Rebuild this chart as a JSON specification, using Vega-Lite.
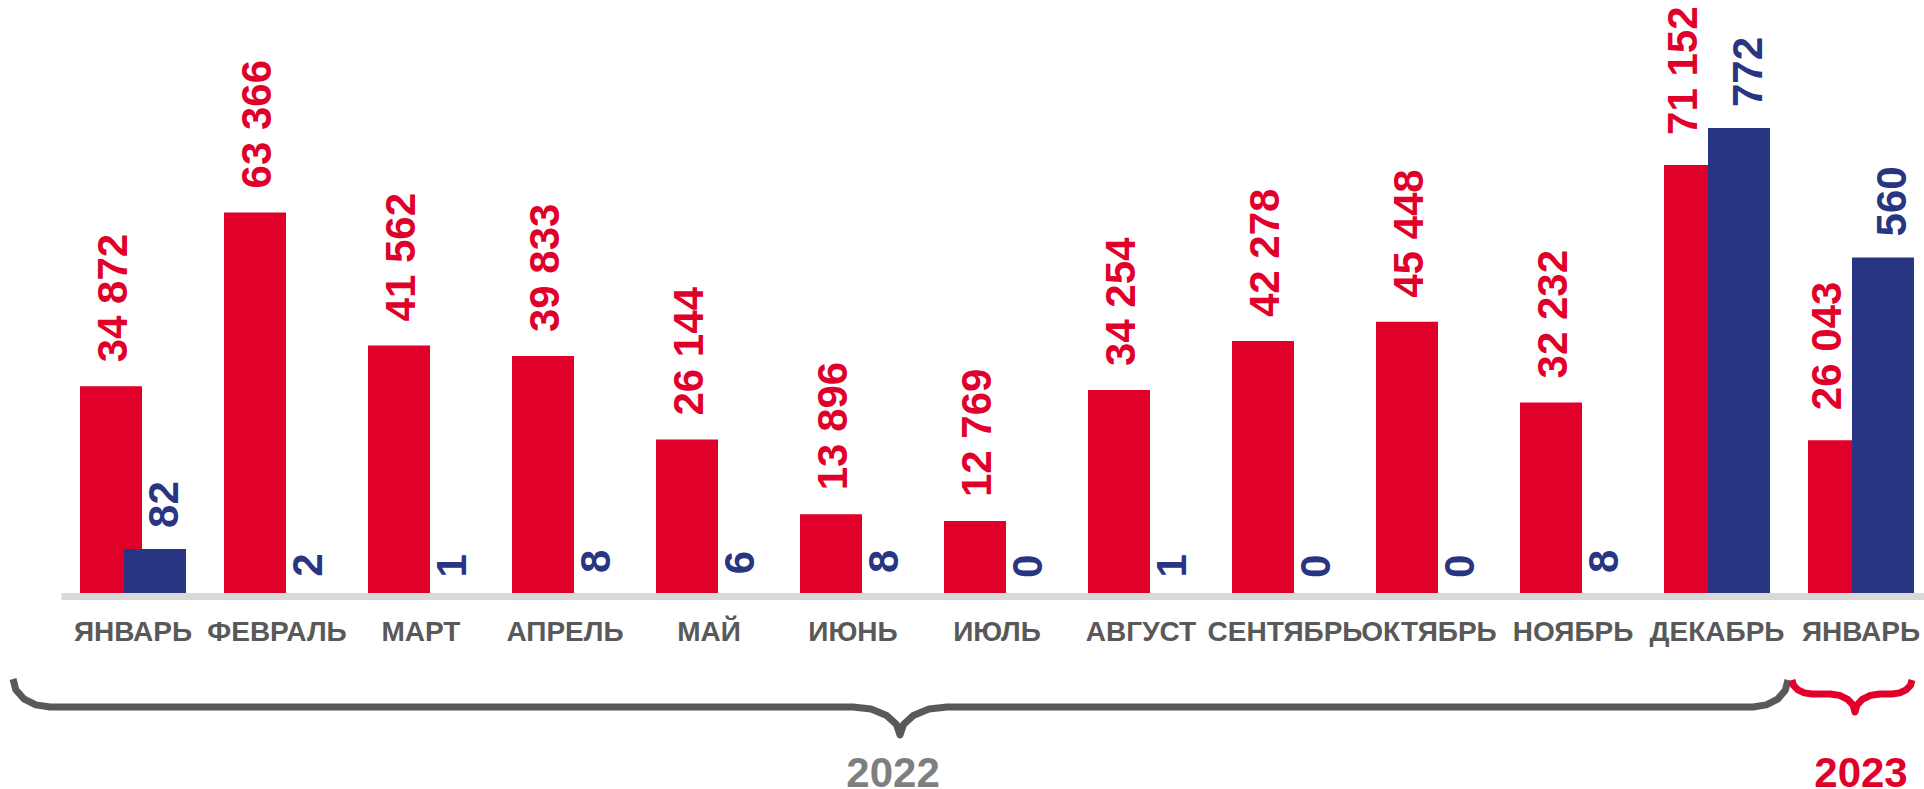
{
  "$schema": "https://vega.github.io/schema/vega-lite/v6.json",
  "width": 1863,
  "height": 488,
  "autosize": {"type": "none"},
  "padding": {"left": 61, "top": 111, "right": 0, "bottom": 190},
  "config": {
    "view": {"stroke": null},
    "font": "Liberation Sans",
    "locale": {"number": {"decimal": ",", "thousands": " ", "grouping": [3], "currency": ["", ""]}}
  },
  "datasets": {
    "months": [
      {"key": "ЯНВАРЬ|2022", "red": 34872, "blue": 82},
      {"key": "ФЕВРАЛЬ|2022", "red": 63366, "blue": 2},
      {"key": "МАРТ|2022", "red": 41562, "blue": 1},
      {"key": "АПРЕЛЬ|2022", "red": 39833, "blue": 8},
      {"key": "МАЙ|2022", "red": 26144, "blue": 6},
      {"key": "ИЮНЬ|2022", "red": 13896, "blue": 8},
      {"key": "ИЮЛЬ|2022", "red": 12769, "blue": 0},
      {"key": "АВГУСТ|2022", "red": 34254, "blue": 1},
      {"key": "СЕНТЯБРЬ|2022", "red": 42278, "blue": 0},
      {"key": "ОКТЯБРЬ|2022", "red": 45448, "blue": 0},
      {"key": "НОЯБРЬ|2022", "red": 32232, "blue": 8},
      {"key": "ДЕКАБРЬ|2022", "red": 71152, "blue": 772},
      {"key": "ЯНВАРЬ|2023", "red": 26043, "blue": 560}
    ],
    "braces": [
      {"g": "2022", "o": 1, "u": -0.3333, "v": -80},
      {"g": "2022", "o": 2, "u": -0.3139, "v": -90.7},
      {"g": "2022", "o": 3, "u": -0.2583, "v": -99.8},
      {"g": "2022", "o": 4, "u": -0.175, "v": -105.9},
      {"g": "2022", "o": 5, "u": -0.0764, "v": -108},
      {"g": "2022", "o": 6, "u": 5.5, "v": -108},
      {"g": "2022", "o": 7, "u": 5.625, "v": -110.1},
      {"g": "2022", "o": 8, "u": 5.7306, "v": -116.2},
      {"g": "2022", "o": 9, "u": 5.8014, "v": -125.3},
      {"g": "2022", "o": 10, "u": 5.8264, "v": -136},
      {"g": "2022", "o": 11, "u": 5.8514, "v": -125.3},
      {"g": "2022", "o": 12, "u": 5.9222, "v": -116.2},
      {"g": "2022", "o": 13, "u": 6.0278, "v": -110.1},
      {"g": "2022", "o": 14, "u": 6.1528, "v": -108},
      {"g": "2022", "o": 15, "u": 11.75, "v": -108},
      {"g": "2022", "o": 16, "u": 11.843, "v": -105.9},
      {"g": "2022", "o": 17, "u": 11.9215, "v": -100.1},
      {"g": "2022", "o": 18, "u": 11.974, "v": -91.3},
      {"g": "2022", "o": 19, "u": 11.993, "v": -81},
      {"g": "2023", "o": 1, "u": 12.0208, "v": -81},
      {"g": "2023", "o": 2, "u": 12.0313, "v": -86.4},
      {"g": "2023", "o": 3, "u": 12.0618, "v": -90.9},
      {"g": "2023", "o": 4, "u": 12.1063, "v": -93.9},
      {"g": "2023", "o": 5, "u": 12.1597, "v": -95},
      {"g": "2023", "o": 6, "u": 12.2847, "v": -95},
      {"g": "2023", "o": 7, "u": 12.3514, "v": -96.4},
      {"g": "2023", "o": 8, "u": 12.4076, "v": -100.3},
      {"g": "2023", "o": 9, "u": 12.4451, "v": -106.1},
      {"g": "2023", "o": 10, "u": 12.4583, "v": -113},
      {"g": "2023", "o": 11, "u": 12.4715, "v": -106.1},
      {"g": "2023", "o": 12, "u": 12.509, "v": -100.3},
      {"g": "2023", "o": 13, "u": 12.5653, "v": -96.4},
      {"g": "2023", "o": 14, "u": 12.6319, "v": -95},
      {"g": "2023", "o": 15, "u": 12.7153, "v": -95},
      {"g": "2023", "o": 16, "u": 12.7688, "v": -93.9},
      {"g": "2023", "o": 17, "u": 12.8132, "v": -90.9},
      {"g": "2023", "o": 18, "u": 12.8438, "v": -86.4},
      {"g": "2023", "o": 19, "u": 12.8542, "v": -81}
    ],
    "years": [
      {"g": "2022", "u": 5.778, "v": -188},
      {"g": "2023", "u": 12.5, "v": -188}
    ]
  },
  "layer": [
    {
      "data": {"name": "months"},
      "encoding": {
        "x": {
          "field": "key", "type": "nominal", "sort": null,
          "scale": {"range": [0, 1872], "paddingInner": 0, "paddingOuter": 0},
          "axis": {
            "title": null, "domain": true, "domainColor": "#D9D9D9", "domainWidth": 7, "domainCap": "butt",
            "ticks": false, "tickSize": 0, "labelFont": "Liberation Sans", "labelFontSize": 28,
            "labelFontWeight": "bold", "labelColor": "#595959", "labelPadding": 44,
            "labelBaseline": "alphabetic", "labelOverlap": false, "labelBound": false, "labelFlush": false,
            "labelAngle": 0, "offset": -3, "zindex": 1, "grid": false,
            "labelExpr": "split(datum.label, '|')[0]"
          }
        },
        "y": {"field": "red", "type": "quantitative", "scale": {"domain": [0, 80000], "nice": false, "zero": true}, "axis": null}
      },
      "layer": [
        {"mark": {"type": "bar", "width": 62, "xOffset": -22, "color": "#E1002A"}},
        {
          "transform": [{"filter": "datum.blue * 100 <= datum.red"}],
          "mark": {"type": "text", "angle": 270, "align": "left", "baseline": "middle", "dx": 24, "dy": 3, "xOffset": -22,
                   "font": "Liberation Sans", "fontSize": 42, "fontWeight": "bold", "color": "#E1002A"},
          "encoding": {"text": {"field": "red", "type": "quantitative", "format": ",d"}}
        },
        {
          "transform": [{"filter": "datum.blue * 100 > datum.red"}],
          "mark": {"type": "text", "angle": 270, "align": "left", "baseline": "middle", "dx": 30, "dy": 3, "xOffset": -36,
                   "font": "Liberation Sans", "fontSize": 42, "fontWeight": "bold", "color": "#E1002A"},
          "encoding": {"text": {"field": "red", "type": "quantitative", "format": ",d"}}
        }
      ]
    },
    {
      "data": {"name": "months"},
      "encoding": {
        "x": {"field": "key", "type": "nominal", "sort": null,
              "scale": {"range": [0, 1872], "paddingInner": 0, "paddingOuter": 0}, "axis": null},
        "y": {"field": "blue", "type": "quantitative", "scale": {"domain": [0, 800], "nice": false, "zero": true}, "axis": null}
      },
      "layer": [
        {"mark": {"type": "bar", "width": 62, "xOffset": 22, "color": "#283583"}},
        {
          "mark": {"type": "text", "angle": 270, "align": "left", "baseline": "middle", "dx": 21, "dy": 10, "xOffset": 22,
                   "font": "Liberation Sans", "fontSize": 42, "fontWeight": "bold", "color": "#283583"},
          "encoding": {"text": {"field": "blue", "type": "quantitative", "format": ",d"}}
        }
      ]
    },
    {
      "encoding": {
        "x": {"field": "u", "type": "quantitative", "scale": {"domain": [0, 13], "range": [0, 1872], "nice": false, "zero": false}, "axis": null},
        "y": {"field": "v", "type": "quantitative", "scale": {"domain": [0, 488], "nice": false, "zero": false}, "axis": null}
      },
      "layer": [
        {
          "data": {"name": "braces"},
          "mark": {"type": "line", "strokeWidth": 7, "strokeCap": "butt", "strokeJoin": "round", "clip": false},
          "encoding": {
            "color": {"field": "g", "type": "nominal", "scale": {"domain": ["2022", "2023"], "range": ["#595959", "#E1002A"]}, "legend": null},
            "order": {"field": "o", "type": "quantitative"}
          }
        },
        {
          "data": {"name": "years"},
          "transform": [{"filter": "datum.g == '2022'"}],
          "mark": {"type": "text", "align": "center", "baseline": "alphabetic", "font": "Liberation Sans", "fontSize": 42, "fontWeight": "bold", "color": "#7F7F7F"},
          "encoding": {"text": {"field": "g"}}
        },
        {
          "data": {"name": "years"},
          "transform": [{"filter": "datum.g == '2023'"}],
          "mark": {"type": "text", "align": "center", "baseline": "alphabetic", "font": "Liberation Sans", "fontSize": 42, "fontWeight": "bold", "color": "#E1002A"},
          "encoding": {"text": {"field": "g"}}
        }
      ]
    }
  ],
  "resolve": {"scale": {"x": "independent", "y": "independent", "color": "independent"}}
}
